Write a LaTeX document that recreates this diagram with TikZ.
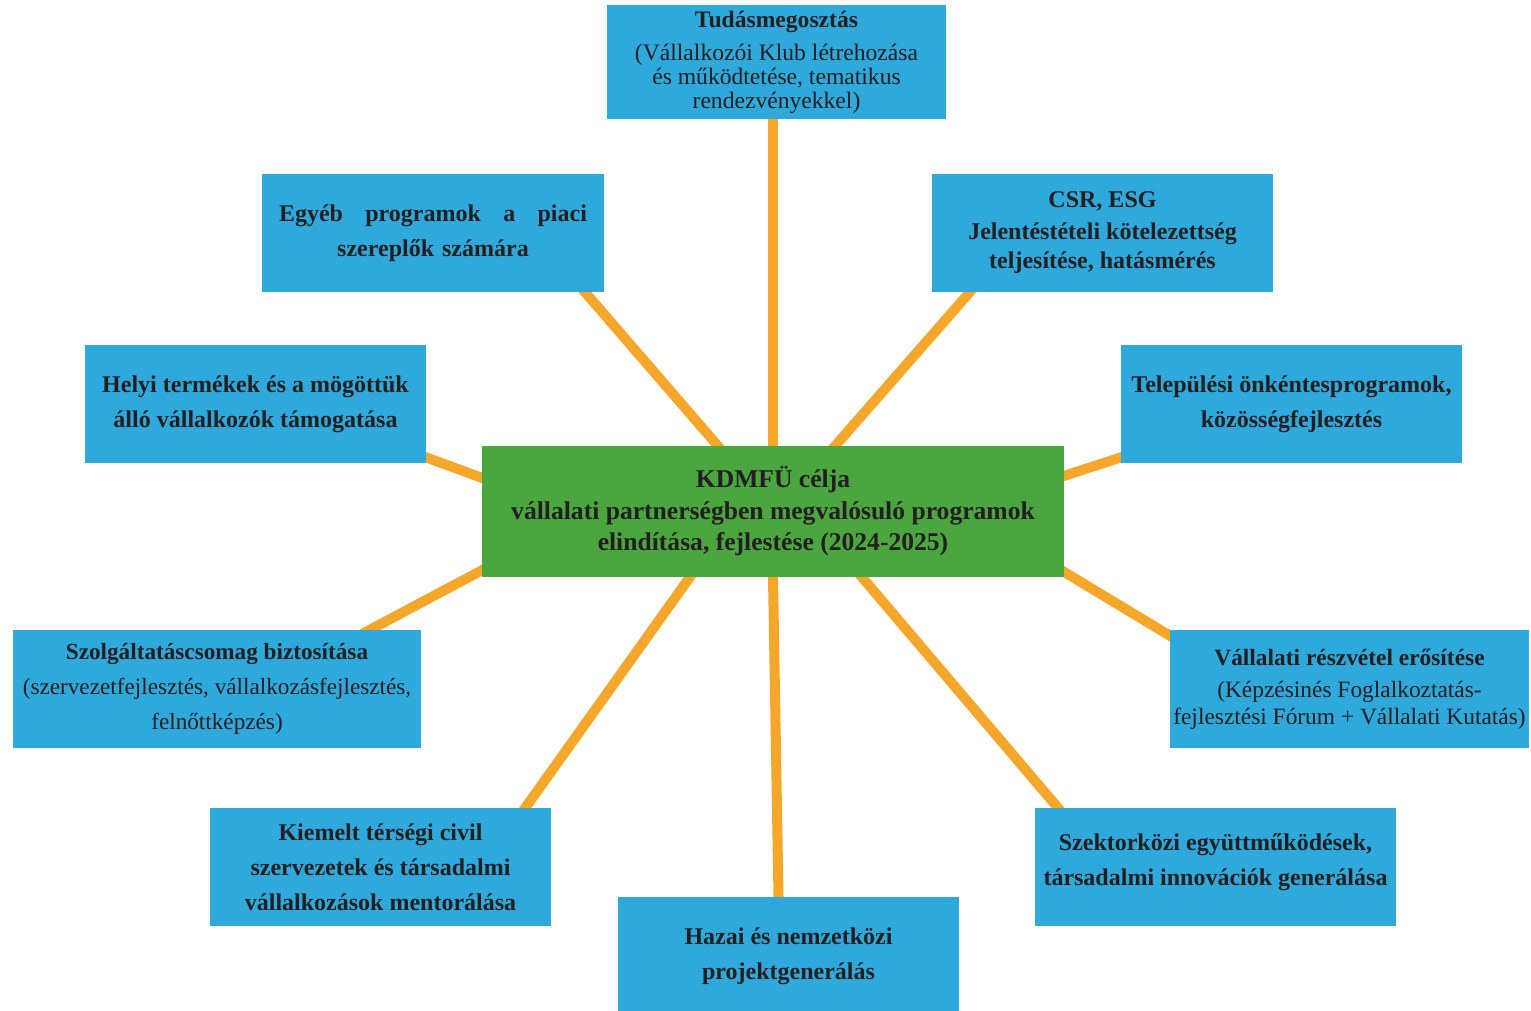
\documentclass[tikz,border=0pt]{standalone}
\usepackage{fontspec}
\setmainfont{Liberation Serif}
\usetikzlibrary{calc,backgrounds}

\definecolor{boxblue}{RGB}{47,169,219}
\definecolor{boxgreen}{RGB}{76,166,64}
\definecolor{linkorange}{RGB}{244,167,42}
\definecolor{inkdark}{RGB}{35,31,32}

\tikzset{
  goal/.style={rectangle, fill=boxblue, text=inkdark, align=center,
    minimum width=170.5pt, minimum height=59pt, inner sep=1pt,
    font=\bfseries\fontsize{12}{17.5}\selectfont},
  core/.style={goal, fill=boxgreen, minimum width=291pt, minimum height=65.5pt,
    font=\bfseries\fontsize{12.8}{15.75}\selectfont},
  link/.style={draw=linkorange, line width=5pt, shorten <=-6pt, shorten >=-6pt}
}

\begin{document}
\begin{tikzpicture}[x=0.5pt, y=-0.5pt]
    \useasboundingbox (0,0) rectangle (1531,1011);

    % central aim
    \node[core] (ctr) at (773,511.5) {KDMFÜ célja\\ vállalati partnerségben megvalósuló programok\\ elindítása, fejlestése (2024-2025)};

    % surrounding programmes
    \node[goal, minimum width=169.5pt, minimum height=57pt,
      font=\fontsize{11.8}{12}\selectfont] (tudas) at (776.5,62)
      {\textbf{Tudásmegosztás}\\[4.5pt] (Vállalkozói Klub létrehozása\\ és működtetése, tematikus\\ rendezvényekkel)};
    \node[goal, minimum width=171pt, text width=154pt] (egyeb) at (433,233)
      {Egyéb\hfill programok\hfill a\hfill piaci\\ szereplők számára};
    \node[goal] (csr) at (1102.5,233) {CSR, ESG\\[-1.5pt] Jelentéstételi kötelezettség\\[-3pt] teljesítése, hatásmérés};
    \node[goal] (helyi) at (255.5,404) {Helyi termékek és a mögöttük\\ álló vállalkozók támogatása};
    \node[goal] (telep) at (1291.5,404) {Települési önkéntesprogramok,\\ közösségfejlesztés};
    \node[goal, minimum width=204pt, font=\fontsize{11.6}{17.5}\selectfont] (szolg) at (217,689)
      {\textbf{Szolgáltatáscsomag biztosítása}\\ (szervezetfejlesztés, vállalkozásfejlesztés,\\ felnőttképzés)};
    \node[goal, minimum width=179.5pt, font=\fontsize{11.7}{13.5}\selectfont] (vall) at (1349.5,689)
      {\textbf{Vállalati részvétel erősítése}\\[2.5pt] (Képzésinés Foglalkoztatás-\\ fejlesztési Fórum + Vállalati Kutatás)};
    \node[goal] (kiemelt) at (380.5,867) {Kiemelt térségi civil\\ szervezetek és társadalmi\\ vállalkozások mentorálása};
    \node[goal, minimum width=180.5pt] (szektor) at (1215.5,867) {Szektorközi együttműködések,\\ társadalmi innovációk generálása\\[-10pt]\mbox{}};
    \node[goal] (hazai) at (788.5,956) {Hazai és nemzetközi\\ projektgenerálás};

    \begin{scope}[on background layer]
      \fill[white] (0,0) rectangle (1531,1011);
      \path[link] (ctr.north) edge (ctr.north |- tudas.south);
      \path[link] ($(ctr.north west)!0.405!(ctr.north east)$) edge ($(egyeb.south west)!0.944!(egyeb.south east)$);
      \path[link] ($(ctr.north west)!0.607!(ctr.north east)$) edge ($(csr.south west)!0.111!(csr.south east)$);
      \path[link] ($(ctr.north west)!0.244!(ctr.south west)$) edge ($(helyi.north east)!0.95!(helyi.south east)$);
      \path[link] ($(ctr.north east)!0.229!(ctr.south east)$) edge ($(telep.north west)!0.95!(telep.south west)$);
      \path[link] ($(ctr.north west)!0.947!(ctr.south west)$) edge ($(szolg.north west)!0.875!(szolg.north east)$);
      \path[link] ($(ctr.north east)!0.96!(ctr.south east)$) edge ($(vall.north west)!0.05!(vall.south west)$);
      \path[link] ($(ctr.south west)!0.357!(ctr.south east)$) edge ($(kiemelt.north west)!0.924!(kiemelt.north east)$);
      \path[link] ($(ctr.south west)!0.653!(ctr.south east)$) edge ($(szektor.north west)!0.064!(szektor.north east)$);
      \path[link] (ctr.south) edge ([xshift=-5pt]hazai.north);
    \end{scope}
  \end{tikzpicture}
\end{document}
